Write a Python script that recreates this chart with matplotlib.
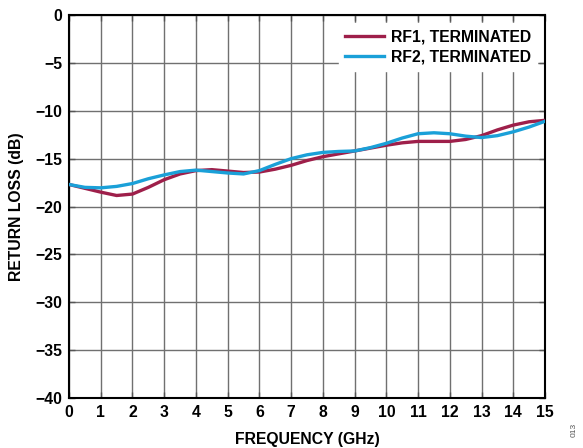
import matplotlib
matplotlib.use("Agg")
import matplotlib.pyplot as plt
import numpy as np

plt.rcParams["font.family"] = ["Liberation Sans", "DejaVu Sans"]
plt.rcParams["font.weight"] = "bold"

# return loss vs frequency, 0.5 GHz steps
freq_ghz = np.arange(0, 15.01, 0.5)
rf1_db = [-17.7, -18.1, -18.5, -18.85, -18.7, -18.0, -17.2, -16.6, -16.25, -16.15,
          -16.3, -16.45, -16.4, -16.1, -15.7, -15.2, -14.8, -14.5, -14.2, -13.9,
          -13.6, -13.35, -13.2, -13.2, -13.2, -13.0, -12.6, -12.0, -11.5, -11.15, -11.0]
rf2_db = [-17.7, -18.0, -18.05, -17.9, -17.6, -17.1, -16.7, -16.35, -16.2, -16.35,
          -16.5, -16.6, -16.25, -15.6, -15.0, -14.6, -14.35, -14.25, -14.2, -13.85,
          -13.4, -12.85, -12.4, -12.3, -12.4, -12.65, -12.8, -12.6, -12.2, -11.7, -11.1]
labels = ["RF1, TERMINATED", "RF2, TERMINATED"]
colours = ["#9E1F4A", "#1AA0D8"]

fs = 11.3

fig = plt.figure(figsize=(5.83, 4.48), dpi=100)
ax = fig.add_axes([0.1184, 0.1116, 0.8164, 0.8549])

ax.plot(freq_ghz, rf1_db, color=colours[0], linewidth=2.4, label=labels[0], zorder=3)
ax.plot(freq_ghz, rf2_db, color=colours[1], linewidth=2.4, label=labels[1], zorder=3)

ax.set_xlim(0, 15)
ax.set_ylim(-40, 0)
ax.set_xticks(range(0, 16))
ax.set_yticks(range(-40, 1, 5))
ax.set_yticklabels([str(v).replace("-", "\u2212") for v in range(-40, 1, 5)])
ax.grid(True, color="#707070", linewidth=1.0)
ax.set_axisbelow(True)
ax.tick_params(direction="in", length=4, width=1, color="#555555",
               top=True, right=True, labelsize=fs, pad=5)
for lab in ax.get_xticklabels() + ax.get_yticklabels():
    lab.set_fontweight("bold")
for sp in ax.spines.values():
    sp.set_linewidth(1.5)
    sp.set_color("black")

ax.set_xlabel("FREQUENCY (GHz)", fontsize=fs, fontweight="bold", labelpad=9)
ax.set_ylabel("RETURN LOSS (dB)", fontsize=fs, fontweight="bold", labelpad=8)

leg = ax.legend(loc="upper right", frameon=True, fontsize=fs, handlelength=2.45,
                borderaxespad=0.5, labelspacing=0.35, handletextpad=0.45,
                borderpad=0.4, fancybox=False)
leg.get_frame().set_edgecolor("white")
leg.get_frame().set_facecolor("white")
leg.get_frame().set_alpha(1)
leg.set_zorder(2.5)
for t in leg.get_texts():
    t.set_fontweight("bold")

fig.text(0.985, 0.04, "013", rotation=90, fontsize=6, color="#555555",
         fontweight="normal", ha="center", va="center")

fig.savefig("out.png", dpi=100)
